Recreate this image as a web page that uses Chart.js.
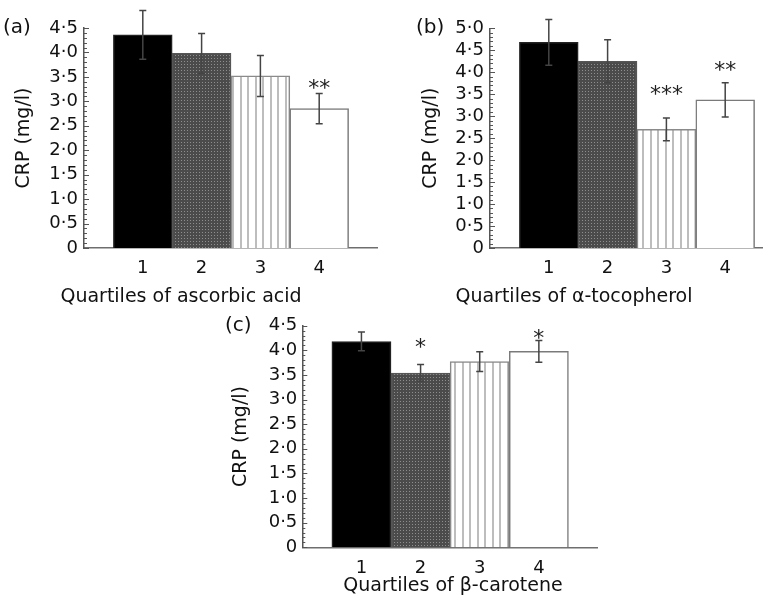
<!DOCTYPE html>
<html>
<head>
<meta charset="utf-8">
<script src="https://cdn.jsdelivr.net/npm/chart.js@4.4.1/dist/chart.umd.min.js"></script>
<style>
    html, body { margin: 0; padding: 0; background: #fff; }
    body { width: 763px; height: 603px; position: relative; overflow: hidden; }
    .panel { position: absolute; }
</style>
</head>
<body>
<canvas id="chartA" class="panel" width="378" height="310" style="left:0;top:0"></canvas>
<canvas id="chartB" class="panel" width="404" height="310" style="left:380px;top:0"></canvas>
<canvas id="chartC" class="panel" width="376" height="305" style="left:222px;top:298px"></canvas>

<script>
// ---- data ----
const quartiles = [1, 2, 3, 4];

const ascorbicMeans  = [4.36, 3.98, 3.52, 2.85];
const ascorbicErrors = [0.50, 0.41, 0.42, 0.31];
const ascorbicStars  = ['', '', '', '**'];
const ascorbicStarAt = [null, null, null, 3.39];

const tocopherolMeans  = [4.68, 4.25, 2.70, 3.37];
const tocopherolErrors = [0.52, 0.49, 0.26, 0.39];
const tocopherolStars  = ['', '', '***', '**'];
const tocopherolStarAt = [null, null, 3.65, 4.18];

const caroteneMeans  = [4.18, 3.54, 3.77, 3.98];
const caroteneErrors = [0.19, 0.17, 0.20, 0.22];
const caroteneStars  = ['', '*', '', '*'];
const caroteneStarAt = [null, 4.18, null, 4.38];

const yMaxA = 4.5, yMaxB = 5.0, yMaxC = 4.5;
const yStep = 0.5;

const FONT = "'DejaVu Sans', sans-serif";
Chart.defaults.font.family = FONT;
Chart.defaults.color = '#111';

// ---- fill patterns ----
function stipple() {
    const c = document.createElement('canvas');
    c.width = 3; c.height = 3;
    const g = c.getContext('2d');
    g.fillStyle = '#4b4b4b'; g.fillRect(0, 0, 3, 3);
    g.fillStyle = '#8e8e8e'; g.fillRect(1, 1, 1, 1);
    return g.createPattern(c, 'repeat');
}
function stripes() {
    const c = document.createElement('canvas');
    c.width = 15; c.height = 4;
    const g = c.getContext('2d');
    g.fillStyle = '#ffffff'; g.fillRect(0, 0, 15, 4);
    g.fillStyle = '#bdbdbd';
    g.fillRect(0, 0, 2, 4);
    g.fillRect(7, 0, 2, 4);
    return g.createPattern(c, 'repeat');
}

function tickLabel(v) {
    return v === 0 ? '0' : Number(v).toFixed(1).replace('.', '\u00B7');
}

// ---- error bars, stars, minor ticks, labels ----
function decorPlugin(d) {
    return {
        id: 'decor',
        afterDatasetsDraw(chart) {
            const ctx = chart.ctx;
            const xs = chart.scales.x, ys = chart.scales.y;
            ctx.save();
            ctx.strokeStyle = '#444';
            ctx.lineWidth = 1.5;
            d.means.forEach((m, i) => {
                const x = xs.getPixelForValue(quartiles[i]);
                const yt = ys.getPixelForValue(m + d.errors[i]);
                const yb = ys.getPixelForValue(m - d.errors[i]);
                ctx.beginPath();
                ctx.moveTo(x, yt); ctx.lineTo(x, yb);
                ctx.moveTo(x - 3.5, yt); ctx.lineTo(x + 3.5, yt);
                ctx.moveTo(x - 3.5, yb); ctx.lineTo(x + 3.5, yb);
                ctx.stroke();
            });
            ctx.fillStyle = '#222';
            ctx.font = '22px ' + FONT;
            ctx.textAlign = 'center';
            ctx.textBaseline = 'alphabetic';
            d.stars.forEach((s, i) => {
                if (!s) return;
                const x = xs.getPixelForValue(quartiles[i]);
                const y = ys.getPixelForValue(d.starAt[i]) + 13;
                const gap = 11;
                for (let k = 0; k < s.length; k++) {
                    ctx.fillText('*', x - (s.length - 1) * gap / 2 + k * gap, y);
                }
            });
            ctx.restore();
        },
        afterDraw(chart) {
            const ctx = chart.ctx;
            const ys = chart.scales.y;
            const left = chart.chartArea.left;
            ctx.save();
            ctx.strokeStyle = '#555';
            ctx.lineWidth = 1;
            for (let k = 0; k <= Math.round(ys.max * 10); k++) {
                const y = Math.round(ys.getPixelForValue(k / 10)) + 0.5;
                const len = k % 5 === 0 ? 5 : 3;
                ctx.beginPath();
                ctx.moveTo(left, y); ctx.lineTo(left + len, y);
                ctx.stroke();
            }
            ctx.fillStyle = '#111';
            ctx.textBaseline = 'middle';
            ctx.textAlign = 'left';
            ctx.font = '20px ' + FONT;
            ctx.fillText(d.panel, d.panelX, 28);
            ctx.textAlign = 'center';
            ctx.font = '19px ' + FONT;
            ctx.fillText(d.xTitle, d.xTitleX, d.xTitleY);
            ctx.restore();
        }
    };
}

function buildPanel(id, d) {
    const el = document.getElementById(id);
    const fills = ['#000000', stipple(), stripes(), '#ffffff'];
    new Chart(el.getContext('2d'), {
        type: 'bar',
        data: {
            datasets: [{
                data: quartiles.map((q, i) => ({ x: q, y: d.means[i] })),
                backgroundColor: fills,
                borderColor: ['#222', '#555', '#8a8a8a', '#7a7a7a'],
                borderWidth: 1.5,
                barPercentage: 1,
                categoryPercentage: 1,
            }]
        },
        options: {
            responsive: false,
            animation: false,
            events: [],
            layout: { padding: { top: d.top, left: 0, right: 0, bottom: 0 } },
            plugins: { legend: { display: false }, tooltip: { enabled: false } },
            scales: {
                x: {
                    type: 'linear',
                    min: 0,
                    max: 5,
                    offset: false,
                    afterBuildTicks: (s) => { s.ticks = quartiles.map(v => ({ value: v })); },
                    afterFit: (s) => { s.height = d.xAxisH; },
                    ticks: {
                        padding: 10,
                        autoSkip: false,
                        maxRotation: 0,
                        font: { size: 18 },
                        color: '#111',
                        callback: (v) => String(v),
                    },
                    grid: { display: false, drawTicks: false, offset: false },
                    border: { display: true, color: '#6e6e6e', width: 1.5 },
                },
                y: {
                    min: 0,
                    max: d.yMax,
                    afterBuildTicks: (s) => {
                        const t = [];
                        for (let v = 0; v <= d.yMax + 1e-9; v += yStep) t.push({ value: +v.toFixed(1) });
                        s.ticks = t;
                    },
                    afterFit: (s) => { s.width = d.yAxisW; },
                    ticks: {
                        padding: d.tickPad,
                        autoSkip: false,
                        font: { size: 18 },
                        color: '#111',
                        callback: tickLabel,
                    },
                    grid: { display: false, drawTicks: false },
                    border: { display: true, color: '#555', width: 1.5 },
                    title: {
                        display: true,
                        text: 'CRP (mg/l)',
                        font: { size: 19 },
                        color: '#111',
                        padding: { top: d.yTitlePad, bottom: 0 },
                    },
                }
            }
        },
        plugins: [decorPlugin(d)]
    });
}

buildPanel('chartA', {
    means: ascorbicMeans, errors: ascorbicErrors, stars: ascorbicStars, starAt: ascorbicStarAt,
    yMax: yMaxA, top: 28, xAxisH: 62, yAxisW: 84, tickPad: 6, yTitlePad: 12.6,
    panel: '(a)', panelX: 3, xTitle: 'Quartiles of ascorbic acid', xTitleX: 181, xTitleY: 297,
});
buildPanel('chartB', {
    means: tocopherolMeans, errors: tocopherolErrors, stars: tocopherolStars, starAt: tocopherolStarAt,
    yMax: yMaxB, top: 28.3, xAxisH: 62, yAxisW: 110, tickPad: 6, yTitlePad: 39.6,
    panel: '(b)', panelX: 36, xTitle: 'Quartiles of \u03B1-tocopherol', xTitleX: 194, xTitleY: 297,
});
buildPanel('chartC', {
    means: caroteneMeans, errors: caroteneErrors, stars: caroteneStars, starAt: caroteneStarAt,
    yMax: yMaxC, top: 27.7, xAxisH: 55.7, yAxisW: 80.3, tickPad: 5, yTitlePad: 8.1,
    panel: '(c)', panelX: 3, xTitle: 'Quartiles of \u03B2-carotene', xTitleX: 231, xTitleY: 288,
});
</script>
</body>
</html>
